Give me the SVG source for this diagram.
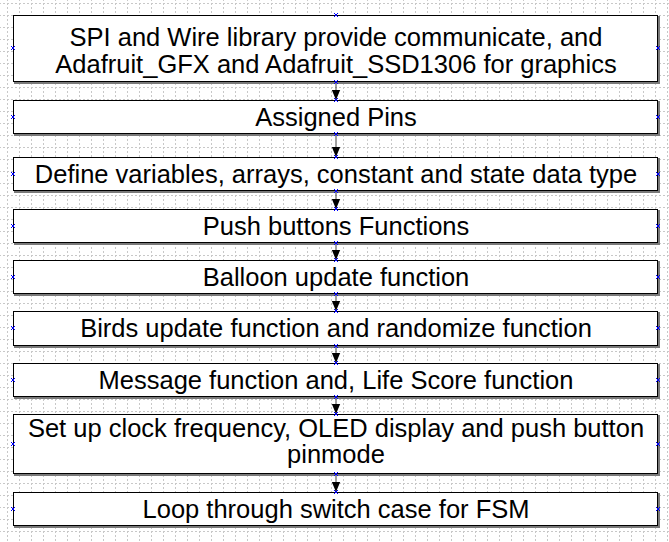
<svg xmlns="http://www.w3.org/2000/svg" width="669" height="542" viewBox="0 0 669 542">
  <defs>
    <style>
      .box { fill: #ffffff; stroke: #000000; stroke-width: 1; }
      .shadow { fill: none; stroke: #7a7a7a; stroke-width: 2; }
      .label { font-family: "Liberation Sans", Arial, sans-serif; font-size: 25.5px; fill: #000000; text-anchor: middle; }
      .edge { stroke: #404040; stroke-width: 1; fill: none; }
      .pin { stroke: #0000ff; stroke-width: 1; fill: none; }
    </style>
    <!-- dotted drawing grid, 12 px pitch -->
    <pattern id="grid" patternUnits="userSpaceOnUse" x="7" y="3" width="12" height="12">
      <path d="M0,0.5 H12" stroke="#c8c8c8" stroke-width="1" stroke-dasharray="2,2"/>
      <path d="M0.5,0 V12" stroke="#c8c8c8" stroke-width="1" stroke-dasharray="2,2"/>
    </pattern>
    <marker id="arrow" markerUnits="userSpaceOnUse" markerWidth="10" markerHeight="12" refX="12" refY="5" orient="auto" viewBox="0 0 12 10">
      <path d="M0,0 L12,5 L0,10 Z" fill="#000000"/>
    </marker>
    <!-- connection point glyph -->
    <path id="pt" d="M-2,-2 L2,2 M-2,2 L2,-2" class="pin"/>
  </defs>

  <rect width="669" height="542" fill="#ffffff"/>
  <rect width="669" height="542" fill="url(#grid)"/>

  <!-- connectors -->
  <g id="connectors">
    <path class="edge" d="M336,82 V100" marker-end="url(#arrow)"/>
    <path class="edge" d="M336,134 V157" marker-end="url(#arrow)"/>
    <path class="edge" d="M336,191 V209" marker-end="url(#arrow)"/>
    <path class="edge" d="M336,243 V260" marker-end="url(#arrow)"/>
    <path class="edge" d="M336,294 V311" marker-end="url(#arrow)"/>
    <path class="edge" d="M336,346 V363" marker-end="url(#arrow)"/>
    <path class="edge" d="M336,397 V414" marker-end="url(#arrow)"/>
    <path class="edge" d="M336,474 V492" marker-end="url(#arrow)"/>
  </g>

  <g id="libraries">
    <path class="shadow" d="M659,16 V83 H14"/>
    <rect class="box" x="13.5" y="15.5" width="644" height="66"/>
    <text class="label" x="336" y="46">SPI and Wire library provide communicate, and</text>
    <text class="label" x="336" y="72.5">Adafruit_GFX and Adafruit_SSD1306 for graphics</text>
    <use href="#pt" x="336" y="15"/><use href="#pt" x="336" y="82"/><use href="#pt" x="13" y="48"/><use href="#pt" x="658" y="48"/>
  </g>

  <g id="pins">
    <path class="shadow" d="M659,101 V135 H14"/>
    <rect class="box" x="13.5" y="100.5" width="644" height="33"/>
    <text class="label" x="336" y="126">Assigned Pins</text>
    <use href="#pt" x="336" y="100"/><use href="#pt" x="336" y="134"/><use href="#pt" x="13" y="117"/><use href="#pt" x="658" y="117"/>
  </g>

  <g id="variables">
    <path class="shadow" d="M659,158 V192 H14"/>
    <rect class="box" x="13.5" y="157.5" width="644" height="33"/>
    <text class="label" x="336" y="183">Define variables, arrays, constant and state data type</text>
    <use href="#pt" x="336" y="157"/><use href="#pt" x="336" y="191"/><use href="#pt" x="13" y="174"/><use href="#pt" x="658" y="174"/>
  </g>

  <g id="buttons">
    <path class="shadow" d="M659,210 V244 H14"/>
    <rect class="box" x="13.5" y="209.5" width="644" height="33"/>
    <text class="label" x="336" y="235">Push buttons Functions</text>
    <use href="#pt" x="336" y="209"/><use href="#pt" x="336" y="243"/><use href="#pt" x="13" y="226"/><use href="#pt" x="658" y="226"/>
  </g>

  <g id="balloon">
    <path class="shadow" d="M659,261 V295 H14"/>
    <rect class="box" x="13.5" y="260.5" width="644" height="33"/>
    <text class="label" x="336" y="286">Balloon update function</text>
    <use href="#pt" x="336" y="260"/><use href="#pt" x="336" y="294"/><use href="#pt" x="13" y="277"/><use href="#pt" x="658" y="277"/>
  </g>

  <g id="birds">
    <path class="shadow" d="M659,312 V347 H14"/>
    <rect class="box" x="13.5" y="311.5" width="644" height="34"/>
    <text class="label" x="336" y="337">Birds update function and randomize function</text>
    <use href="#pt" x="336" y="311"/><use href="#pt" x="336" y="346"/><use href="#pt" x="13" y="328"/><use href="#pt" x="658" y="328"/>
  </g>

  <g id="message">
    <path class="shadow" d="M659,364 V398 H14"/>
    <rect class="box" x="13.5" y="363.5" width="644" height="33"/>
    <text class="label" x="336" y="389">Message function and, Life Score function</text>
    <use href="#pt" x="336" y="363"/><use href="#pt" x="336" y="397"/><use href="#pt" x="13" y="380"/><use href="#pt" x="658" y="380"/>
  </g>

  <g id="setup">
    <path class="shadow" d="M659,415 V475 H14"/>
    <rect class="box" x="13.5" y="414.5" width="644" height="59"/>
    <text class="label" x="336" y="436.5">Set up clock frequency, OLED display and push button</text>
    <text class="label" x="336" y="463">pinmode</text>
    <use href="#pt" x="336" y="414"/><use href="#pt" x="336" y="474"/><use href="#pt" x="13" y="444"/><use href="#pt" x="658" y="444"/>
  </g>

  <g id="loop">
    <path class="shadow" d="M659,493 V527 H14"/>
    <rect class="box" x="13.5" y="492.5" width="644" height="33"/>
    <text class="label" x="336" y="518">Loop through switch case for FSM</text>
    <use href="#pt" x="336" y="492"/><use href="#pt" x="13" y="509"/><use href="#pt" x="658" y="509"/>
  </g>
</svg>
